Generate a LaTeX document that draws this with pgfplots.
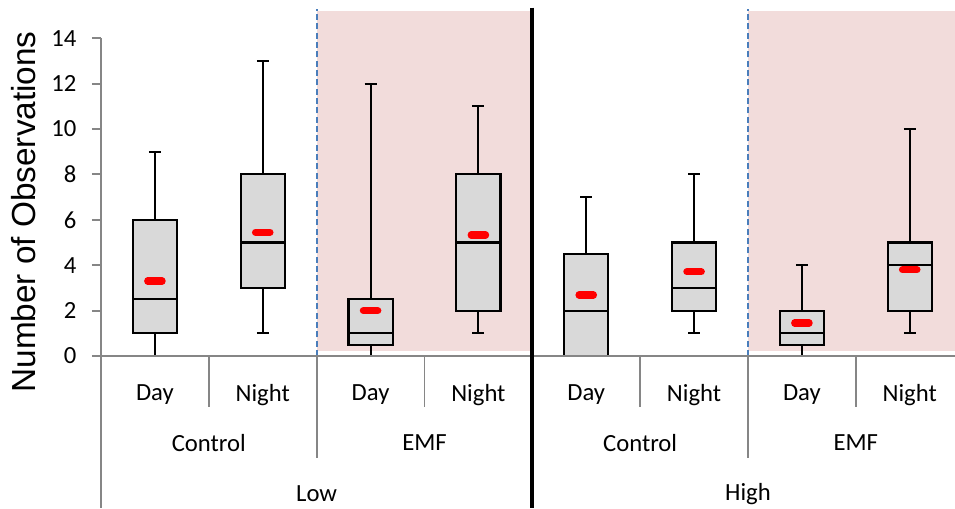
\documentclass[border=0pt]{standalone}
\usepackage{fontspec}
\setmainfont{Carlito}
\newfontfamily\arialfont{Liberation Sans}
\usepackage{pgfplots}
\pgfplotsset{compat=1.18}
\usepgfplotslibrary{statistics}
\definecolor{pinkbg}{HTML}{F2DCDB}
\definecolor{boxgray}{HTML}{D9D9D9}
\definecolor{axgray}{HTML}{868686}
\definecolor{dashblue}{HTML}{4A7EBB}
\pgfplotsset{
  mybox/.style={draw=black, fill=boxgray, line width=1.6pt, boxplot/draw direction=y},
  sep/.style={axgray, line width=1.4pt},
}
\begin{document}
\begin{tikzpicture}
\begin{axis}[
  at={(0,0)}, anchor=south west,
  scale only axis, width=640.5pt, height=261pt,
  xmin=-0.5, xmax=7.42, ymin=0, ymax=15.33,
  clip=false,
  axis line style={draw=none},
  tick pos=left,
  xtick={0,...,7},
  xticklabels={Day,Night,Day,Night,Day,Night,Day,Night},
  xtick style={draw=none},
  ytick={0,2,...,14},
  ytick style={draw=axgray, line width=1.4pt},
  tick align=outside,
  major tick length=6.75pt,
  tick label style={font=\fontsize{18.5}{22}\selectfont},
  /pgf/number format/assume math mode=true,
  xticklabel style={anchor=center, yshift=-22.5pt},
  yticklabel style={anchor=east, inner sep=0pt},
  yticklabel shift=11.5pt,
  extra x ticks={0.5,2.5,4.5,6.5},
  extra x tick labels={Control,EMF,Control,EMF},
  extra x tick style={major tick length=0pt, xticklabel style={yshift=-42.75pt}},
  ylabel={Number of Observations},
  every axis y label/.style={at={(rel axis cs:0,0.414)}, xshift=-57.75pt, rotate=90, anchor=center, font=\arialfont\fontsize{25}{30}\selectfont},
]
% shaded EMF regions
\addplot[fill=pinkbg, draw=none] coordinates {(1.5,0.22) (3.5,0.22) (3.5,15.2) (1.5,15.2)} -- cycle;
\addplot[fill=pinkbg, draw=none] coordinates {(5.5,0.22) (7.42,0.22) (7.42,15.2) (5.5,15.2)} -- cycle;
% dashed separators
\addplot[dashblue, line width=1.5pt, dash pattern=on 4.5pt off 2.5pt] coordinates {(1.5,0) (1.5,15.3)};
\addplot[dashblue, line width=1.5pt, dash pattern=on 4.5pt off 2.5pt] coordinates {(5.5,0) (5.5,15.3)};
% boxes
\addplot[mybox, boxplot prepared={draw position=0, lower whisker=0, lower quartile=1, median=2.5, upper quartile=6, upper whisker=9, box extend=0.41, whisker extend=0.11}] coordinates {};
\addplot[mybox, boxplot prepared={draw position=1, lower whisker=1, lower quartile=3, median=5, upper quartile=8, upper whisker=13, box extend=0.41, whisker extend=0.11}] coordinates {};
\addplot[mybox, boxplot prepared={draw position=2, lower whisker=0, lower quartile=0.5, median=1, upper quartile=2.5, upper whisker=12, box extend=0.41, whisker extend=0.11}] coordinates {};
\addplot[mybox, boxplot prepared={draw position=3, lower whisker=1, lower quartile=2, median=5, upper quartile=8, upper whisker=11, box extend=0.41, whisker extend=0.11}] coordinates {};
\addplot[mybox, boxplot prepared={draw position=4, lower whisker=0, lower quartile=0, median=2, upper quartile=4.5, upper whisker=7, box extend=0.41, whisker extend=0.11}] coordinates {};
\addplot[mybox, boxplot prepared={draw position=5, lower whisker=1, lower quartile=2, median=3, upper quartile=5, upper whisker=8, box extend=0.41, whisker extend=0.11}] coordinates {};
\addplot[mybox, boxplot prepared={draw position=6, lower whisker=0, lower quartile=0.5, median=1, upper quartile=2, upper whisker=4, box extend=0.41, whisker extend=0.11}] coordinates {};
\addplot[mybox, boxplot prepared={draw position=7, lower whisker=1, lower quartile=2, median=4, upper quartile=5, upper whisker=10, box extend=0.41, whisker extend=0.11}] coordinates {};
% means
\addplot[only marks, mark=-, mark size=5.4pt, mark options={draw=red, line width=5.4pt, line cap=round}] coordinates {(0,3.3) (1,5.45) (2,2.0) (3,5.33) (4,2.69) (5,3.71) (6,1.45) (7,3.8)};
% axis lines and category separators
\addplot[sep] coordinates {(-0.5,0) (7.42,0)};
\addplot[sep] coordinates {(-0.5,14) (-0.5,-6.7)};
\addplot[sep] coordinates {(0.5,0) (0.5,-2.25)};
\addplot[sep] coordinates {(2.5,0) (2.5,-2.25)};
\addplot[sep] coordinates {(4.5,0) (4.5,-2.25)};
\addplot[sep] coordinates {(6.5,0) (6.5,-2.25)};
\addplot[sep] coordinates {(1.5,0) (1.5,-4.49)};
\addplot[sep] coordinates {(5.5,0) (5.5,-4.49)};
\addplot[black, line width=3pt] coordinates {(3.5,15.35) (3.5,-6.7)};
\node[font=\fontsize{18.5}{22}\selectfont] at (axis cs:1.5,-6.08) {Low};
\node[font=\fontsize{18.5}{22}\selectfont] at (axis cs:5.5,-6.08) {High};
\end{axis}
\pgfresetboundingbox
\useasboundingbox (-75.75pt,-114pt) rectangle (640.5pt,267pt);
\end{tikzpicture}
\end{document}
